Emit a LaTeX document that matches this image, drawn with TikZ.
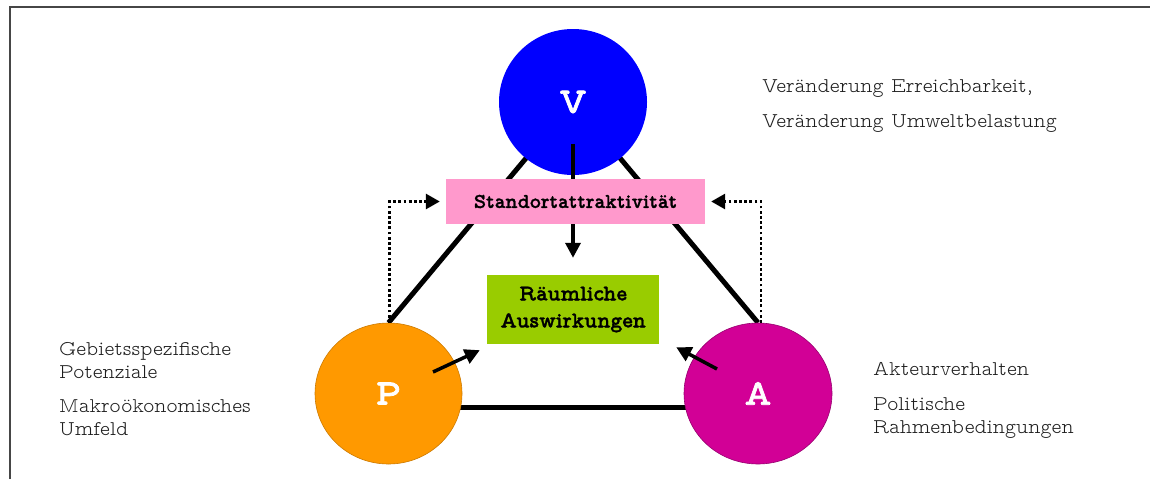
\documentclass[tikz,border=0pt]{standalone}
\usepackage{fontspec}
\setmainfont{lmmonoproplt10-regular.otf}[BoldFont=lmmonoproplt10-bold.otf]
\newfontfamily\heavyslab{lmmonoproplt10-bold.otf}[FakeBold=1.2]
\newfontfamily\letterslab{lmmonoproplt10-bold.otf}[FakeBold=2]
\usetikzlibrary{arrows.meta,shapes.geometric,backgrounds,calc}
\definecolor{vblue}{RGB}{0,0,255}
\definecolor{porange}{RGB}{255,153,0}
\definecolor{porangeline}{RGB}{204,122,0}
\definecolor{amag}{RGB}{210,0,150}
\definecolor{amagline}{RGB}{150,0,110}
\definecolor{spink}{RGB}{255,153,204}
\definecolor{ggreen}{RGB}{153,204,0}
\definecolor{bordercol}{RGB}{70,70,70}
\definecolor{txtcol}{RGB}{30,30,30}
\begin{document}
\begin{tikzpicture}[x=1pt,y=-1pt,
  lbl/.style={anchor=base west, inner sep=0pt, font=\fontsize{21}{21}\selectfont, text=txtcol},
  bub/.style={ellipse, inner sep=0pt, text=white, font=\letterslab\fontsize{36}{36}\selectfont},
  boxlbl/.style={rectangle, inner sep=0pt, align=center},
  tri/.style={line width=5pt},
  arr/.style={line width=3.5pt, -{Triangle[length=15pt,width=15pt]}},
  dotarr/.style={line width=2.8pt, dash pattern=on 2.8pt off 2.4pt, -{Triangle[length=14pt,width=15pt]}, shorten >=6pt}]
\useasboundingbox (0,0) rectangle (1150,479);
\draw[bordercol, line width=2pt] (10,479) -- (10,7) -- (1150,7);

\node[bub, fill=vblue, minimum width=148pt, minimum height=146pt] (V) at (573,102) {V};
\node[bub, fill=porange, draw=porangeline, line width=0.6pt, minimum width=147pt, minimum height=141pt] (P) at (388.5,393.5) {P};
\node[bub, fill=amag, draw=amagline, line width=0.6pt, minimum width=148pt, minimum height=141pt] (A) at (758,393.5) {A};
\node[boxlbl, fill=ggreen, minimum width=172pt, minimum height=69pt, font=\heavyslab\fontsize{22.5}{27}\selectfont] (G) at (573,309.5) {R\"aumliche\\Auswirkungen};

\begin{scope}[on background layer]
\draw[tri] (P.north) -- (V.center);
\draw[tri] (A.north) -- (V.center);
\draw[tri] ([yshift=-14pt]P.center) -- ([yshift=-14pt]A.center);
\end{scope}

\draw[arr] ([yshift=-42pt]V.center) -- ([yshift=17pt]G.north);
\node[boxlbl, fill=spink, minimum width=259pt, minimum height=45pt, font=\heavyslab\fontsize{21}{21}\selectfont] (S) at (575.5,201.5) {Standortattraktivit\"at};

\draw[dotarr] ([xshift=1pt]P.north) |- (S.west);
\draw[dotarr] ([xshift=3pt]A.north) |- (S.east);

\draw[arr] ([shift={(44.5,-21.5)}]P.center) -- ([shift={(-7,6)}]G.south west);
\draw[arr] ([shift={(-41,-24.5)}]A.center) -- ([shift={(17,3)}]G.south east);

\node[lbl] (t1) at (762,92) {Ver\"anderung Erreichbarkeit,};
\node[lbl] (t2) at (762,127) {Ver\"anderung Umweltbelastung};
\node[lbl] (l1) at (59,355) {Gebietsspezifische};
\node[lbl] (l2) at (59,378) {Potenziale};
\node[lbl] (l3) at (59,412) {Makro\"okonomisches};
\node[lbl] (l4) at (59,435) {Umfeld};
\node[lbl] (r1) at (873,375) {Akteurverhalten};
\node[lbl] (r2) at (873,410) {Politische};
\node[lbl] (r3) at (873,433) {Rahmenbedingungen};
\end{tikzpicture}
\end{document}
